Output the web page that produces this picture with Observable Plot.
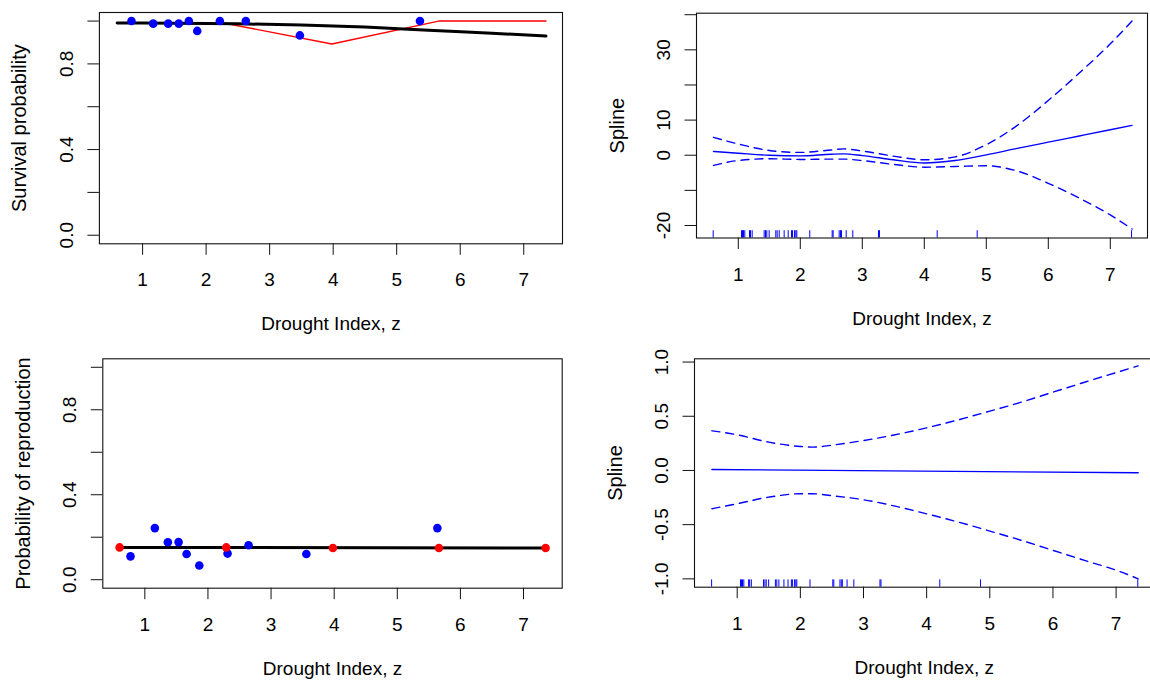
<!DOCTYPE html>
<html><head><meta charset="utf-8">
<script src="https://cdn.jsdelivr.net/npm/d3@7"></script>
<script src="https://cdn.jsdelivr.net/npm/@observablehq/plot@0.6"></script>
<style>
html,body{margin:0;padding:0;background:#fff;}
#wrap{position:relative;width:1150px;height:682px;overflow:hidden;background:#fff;}
#wrap > div{position:absolute;}
#wrap svg{max-width:none;overflow:visible;display:block;}
</style></head><body><div id="wrap"></div>
<script>
// ---------- data ----------
const xTicks = [1, 2, 3, 4, 5, 6, 7];
const xTickLabels = ["1", "2", "3", "4", "5", "6", "7"];
const xTitle = "Drought Index, z";

// panel 1: survival
const survX = [0.825, 1.167, 1.403, 1.570, 1.728, 1.860, 2.216, 2.625, 3.476, 5.366];
const survY = [1.0, 0.988, 0.988, 0.988, 1.0, 0.954, 1.0, 1.0, 0.933, 1.0];
const binX = [0.6, 2.29, 3.98, 5.66, 7.35];
const survBinY = [0.992, 0.990, 0.893, 1.0, 1.0];
const survFitX = [0.6, 1.5, 2.5, 3.5, 4.5, 5.5, 6.5, 7.35];
const survFitY = [0.991, 0.990, 0.987, 0.982, 0.972, 0.957, 0.943, 0.930];
const probTicks = [0, 0.2, 0.4, 0.6, 0.8, 1.0];
const probTickLabels = ["0.0", "", "0.4", "", "0.8", ""];

// panel 3: reproduction
const reproX = [0.773, 1.159, 1.365, 1.535, 1.662, 1.863, 2.311, 2.644, 3.559, 5.635];
const reproY = [0.110, 0.243, 0.176, 0.177, 0.121, 0.067, 0.123, 0.162, 0.121, 0.243];
const reproBinY = [0.152, 0.152, 0.149, 0.149, 0.149];
const reproFitX = [0.6, 7.35];
const reproFitY = [0.152, 0.149];

// rug (drought index observations)
const rugX = [0.595, 1.052, 1.068, 1.084, 1.105, 1.181, 1.197, 1.224, 1.417, 1.439, 1.46, 1.498,
  1.605, 1.627, 1.66, 1.74, 1.805, 1.858, 1.874, 1.906, 1.928, 1.944, 2.153, 2.514, 2.53,
  2.627, 2.648, 2.665, 2.74, 2.847, 3.261, 3.277, 4.208, 4.853, 7.343];

// panel 2: spline for survival
const spl1X = [0.6, 1.0, 1.5, 2.0, 2.5, 2.7, 3.0, 3.5, 4.0, 4.5, 5.0, 5.5, 6.0, 6.5, 7.0, 7.35];
const spl1Fit = [1.06, 0.57, 0.0, -0.17, 0.3, 0.4, -0.1, -1.3, -2.2, -1.5, 0.1, 1.95, 3.72, 5.48, 7.25, 8.5];
const spl1Up = [5.1, 3.2, 1.35, 0.8, 1.5, 1.8, 1.2, -0.25, -1.3, -0.45, 3.0, 8.5, 15.6, 23.4, 31.7, 38.2];
const spl1Lo = [-2.9, -1.5, -1.0, -1.2, -1.1, -1.1, -1.5, -2.6, -3.4, -3.2, -3.0, -4.5, -8.0, -12.2, -17.0, -21.0];
const spl1Ticks = [-20, -10, 0, 10, 20, 30, 40];
const spl1TickLabels = ["-20", "", "0", "10", "", "30", ""];

// panel 4: spline for reproduction
const spl2X = [0.6, 1.0, 1.5, 2.0, 2.2, 2.5, 3.0, 3.5, 4.0, 4.5, 5.0, 5.5, 6.0, 6.5, 7.0, 7.35];
const spl2Up = [0.366, 0.329, 0.261, 0.221, 0.215, 0.233, 0.276, 0.329, 0.393, 0.467, 0.547, 0.63, 0.722, 0.814, 0.903, 0.965];
const spl2Lo = [-0.353, -0.307, -0.246, -0.215, -0.215, -0.233, -0.27, -0.329, -0.4, -0.476, -0.559, -0.645, -0.737, -0.83, -0.92, -1.0];
const spl2FitX = [0.6, 7.35];
const spl2FitY = [0.009, -0.0215];
const spl2Ticks = [-1, -0.5, 0, 0.5, 1];
const spl2TickLabels = ["-1.0", "-0.5", "0.0", "0.5", "1.0"];

// ---------- helpers ----------
const FONT = "'Liberation Sans', Arial, Helvetica, sans-serif";
const zip = (xs, ys) => xs.map((x, i) => ({x, y: ys[i]}));
const BLUE = "#0000ff", RED = "#ff0000";
const DASH = "8,6";

function panel({left, top, width, height, frame, xDomain, yDomain, yTicks, yTickLabels, yTitle, marks}) {
  const [fl, ft, fr, fb] = frame;
  const yMap = new Map(yTicks.map((t, i) => [t, yTickLabels[i]]));
  const xMap = new Map(xTicks.map((t, i) => [t, xTickLabels[i]]));
  const chart = Plot.plot({
    width, height,
    marginLeft: fl - left, marginTop: ft - top,
    marginRight: left + width - fr, marginBottom: top + height - fb,
    x: {domain: xDomain},
    y: {domain: yDomain},
    style: {fontSize: "19px", fontFamily: FONT, background: "white", color: "black", overflow: "visible"},
    marks: [
      ...marks,
      Plot.frame({stroke: "#111", strokeWidth: 1.1}),
      Plot.axisX({ticks: xTicks, tickSize: 11.5, tickPadding: 31, lineAnchor: "bottom",
        tickFormat: d => xMap.get(d), label: null, stroke: "#111"}),
      Plot.axisY({ticks: yTicks, tickSize: 11.5, tickPadding: 15, tickRotate: -90,
        textAnchor: "middle", lineAnchor: "bottom",
        tickFormat: d => yMap.get(d), label: null, stroke: "#111"}),
      Plot.text([xTitle], {text: d => d, frameAnchor: "bottom", dy: 86.5, lineAnchor: "bottom", fontSize: 19}),
      Plot.text([yTitle], {text: d => d, frameAnchor: "left", dx: -73, rotate: -90,
        textAnchor: "middle", lineAnchor: "bottom", fontSize: 20})
    ]
  });
  const div = document.createElement("div");
  div.style.left = left + "px";
  div.style.top = top + "px";
  div.appendChild(chart);
  document.getElementById("wrap").appendChild(div);
}

// panel 1
panel({
  left: 0, top: 0, width: 575, height: 341,
  frame: [98.9, 12, 562, 243.3],
  xDomain: [0.32, 7.61], yDomain: [-0.04, 1.04],
  yTicks: probTicks, yTickLabels: probTickLabels, yTitle: "Survival probability",
  marks: [
    Plot.line(zip(binX, survBinY), {x: "x", y: "y", stroke: RED, strokeWidth: 1.4}),
    Plot.line(zip(survFitX, survFitY), {x: "x", y: "y", stroke: "black", strokeWidth: 3, curve: "monotone-x"}),
    Plot.dot(zip(survX, survY), {x: "x", y: "y", r: 4.3, fill: BLUE, stroke: "none"})
  ]
});

// panel 2
panel({
  left: 575, top: 0, width: 575, height: 341,
  frame: [696, 12.7, 1147, 237.5],
  xDomain: [0.326, 7.6], yDomain: [-23.56, 40.43],
  yTicks: spl1Ticks, yTickLabels: spl1TickLabels, yTitle: "Spline",
  marks: [
    Plot.tickX(rugX, {x: d => d, insetTop: 224.8 - 7.3, stroke: BLUE, strokeWidth: 1}),
    Plot.line(zip(spl1X, spl1Up), {x: "x", y: "y", stroke: BLUE, strokeWidth: 1.4, strokeDasharray: DASH, curve: "monotone-x"}),
    Plot.line(zip(spl1X, spl1Lo), {x: "x", y: "y", stroke: BLUE, strokeWidth: 1.4, strokeDasharray: DASH, curve: "monotone-x"}),
    Plot.line(zip(spl1X, spl1Fit), {x: "x", y: "y", stroke: BLUE, strokeWidth: 1.4, curve: "monotone-x"})
  ]
});

// panel 3
panel({
  left: 0, top: 341, width: 575, height: 341,
  frame: [102.3, 358.3, 561.7, 587.7],
  xDomain: [0.334, 7.613], yDomain: [-0.04, 1.04],
  yTicks: probTicks, yTickLabels: probTickLabels, yTitle: "Probability of reproduction",
  marks: [
    Plot.line(zip(reproFitX, reproFitY), {x: "x", y: "y", stroke: "black", strokeWidth: 3}),
    Plot.dot(zip(reproX, reproY), {x: "x", y: "y", r: 4.3, fill: BLUE, stroke: "none"}),
    Plot.dot(zip(binX, reproBinY), {x: "x", y: "y", r: 4.3, fill: RED, stroke: "none"})
  ]
});

// panel 4
panel({
  left: 575, top: 341, width: 580, height: 341,
  frame: [694, 358.3, 1153.5, 586.7],
  xDomain: [0.324, 7.6], yDomain: [-1.077, 1.03],
  yTicks: spl2Ticks, yTickLabels: spl2TickLabels, yTitle: "Spline",
  marks: [
    Plot.tickX(rugX, {x: d => d, insetTop: 228.4 - 7.3, stroke: BLUE, strokeWidth: 1}),
    Plot.line(zip(spl2X, spl2Up), {x: "x", y: "y", stroke: BLUE, strokeWidth: 1.4, strokeDasharray: DASH, curve: "monotone-x"}),
    Plot.line(zip(spl2X, spl2Lo), {x: "x", y: "y", stroke: BLUE, strokeWidth: 1.4, strokeDasharray: DASH, curve: "monotone-x"}),
    Plot.line(zip(spl2FitX, spl2FitY), {x: "x", y: "y", stroke: BLUE, strokeWidth: 1.4})
  ]
});
</script></body></html>
